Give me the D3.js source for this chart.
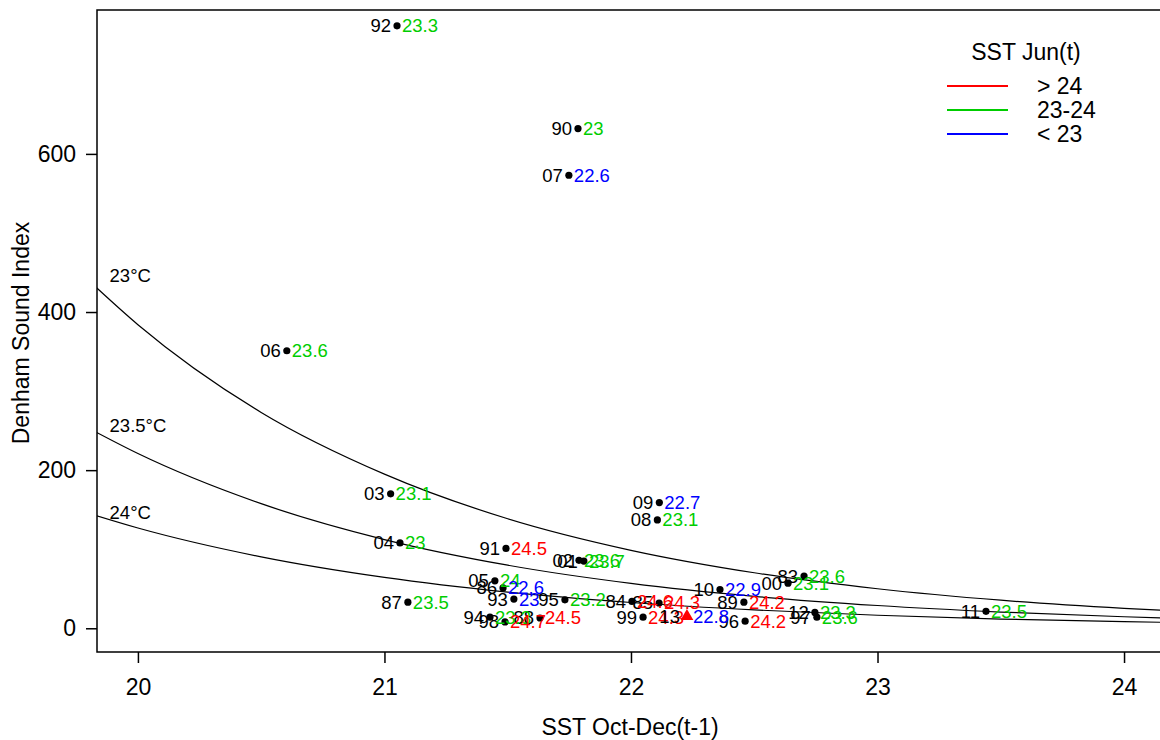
<!DOCTYPE html>
<html>
<head>
<meta charset="utf-8">
<script src="https://cdn.jsdelivr.net/npm/d3@7"></script>
<style>
  html, body { margin: 0; padding: 0; background: #fff; }
  svg { display: block; font-family: "Liberation Sans", Arial, sans-serif; }
</style>
</head>
<body>
<svg id="chart" width="1160" height="740"></svg>
<script>
// Year labels, SST Oct-Dec(t-1), Denham Sound index and SST Jun(t) for each season
const years   = ["92","90","07","06","03","09","08","04","91","02","01","05","86","87","93","95","84","85","99","10","89","96","00","83","12","97","11","94","98","88"];
const sstOctDec = [21.051,21.785,21.748,20.604,21.025,22.115,22.107,21.063,21.493,21.789,21.809,21.448,21.481,21.095,21.525,21.732,22.004,22.114,22.049,22.361,22.458,22.463,22.637,22.702,22.746,22.754,23.440,21.428,21.489,21.631];
const denhamIndex = [762,632,573,351,170,159,137,108,101,86,85,60,51,33,37,36,34,32,14,49,33,9,57,66,20,14,21.5,14,8,13];
const sstJun  = [23.3,23.0,22.6,23.6,23.1,22.7,23.1,23.0,24.5,23.6,23.7,24.0,22.6,23.5,22.96,23.2,24.6,24.3,24.3,22.9,24.2,24.2,23.1,23.6,23.3,23.6,23.5,23.3,24.7,24.5];

// Highlighted season (triangle marker)
const hiYear = ["13"];
const hiOctDec = [22.227];
const hiIndex = [15];
const hiJun = [22.8];

// Fitted index curves for three June SST levels
const curveX   = [19.8, 20, 20.5, 21, 21.5, 22, 22.5, 23, 23.5, 24, 24.3];
const curve23  = [440, 384, 273, 195, 138.5, 98.6, 70.2, 50.0, 35.5, 25.3, 20.6];
const curve235 = [253, 221, 157.6, 112.2, 79.8, 56.8, 40.4, 28.8, 20.5, 14.6, 11.9];
const curve24  = [145.4, 126.8, 90.3, 64.3, 45.7, 32.6, 23.2, 16.5, 11.7, 8.4, 6.8];
const curveNames = ["23°C", "23.5°C", "24°C"];

// Axis ticks and legend
const xTicks = [20, 21, 22, 23, 24];
const yTicks = [0, 200, 400, 600];
const legendTitle = "SST Jun(t)";
const legendLabels = ["> 24", "23-24", "< 23"];
const legendColors = ["#ff0000", "#00cd00", "#0000ff"];

const svg = d3.select("#chart");
const W = 1160, H = 740;
svg.append("rect").attr("width", W).attr("height", H).attr("fill", "#fff");

const plot = { left: 97, top: 10, right: 1198, bottom: 652 };
const x = d3.scaleLinear().domain([19.834, 24.3]).range([plot.left, plot.right]);
const y = d3.scaleLinear().domain([-30, 782]).range([plot.bottom, plot.top]);

const juneColor = v => v > 24 ? legendColors[0] : (v >= 23 ? legendColors[1] : legendColors[2]);
const fmt = v => String(Math.round(v * 10) / 10);

svg.append("clipPath").attr("id", "clip")
  .append("rect").attr("x", plot.left).attr("y", plot.top)
  .attr("width", plot.right - plot.left).attr("height", plot.bottom - plot.top);

// Curves
const line = d3.line().x(d => x(d[0])).y(d => y(d[1])).curve(d3.curveMonotoneX);
const curves = [curve23, curve235, curve24];
const gCurves = svg.append("g").attr("clip-path", "url(#clip)");
curves.forEach(c => {
  gCurves.append("path")
    .attr("d", line(curveX.map((v, i) => [v, c[i]])))
    .attr("fill", "none").attr("stroke", "#000").attr("stroke-width", 1.2);
});
// curve labels near the left edge
const curveLabelY = [446, 256, 147];
curveNames.forEach((n, i) => {
  svg.append("text").attr("x", x(19.885)).attr("y", y(curveLabelY[i]))
    .attr("dy", "0.35em").attr("font-size", 18.5).attr("fill", "#000").text(n);
});

// Frame
svg.append("path")
  .attr("d", `M${plot.right},${plot.top}H${plot.left}V${plot.bottom}H${plot.right}`)
  .attr("fill", "none").attr("stroke", "#000").attr("stroke-width", 1.5);

// Axes
const yAxis = svg.append("g").attr("transform", `translate(${plot.left},0)`)
  .call(d3.axisLeft(y).tickValues(yTicks).tickSize(11).tickPadding(10));
const xAxis = svg.append("g").attr("transform", `translate(0,${plot.bottom})`)
  .call(d3.axisBottom(x).tickValues(xTicks).tickFormat(d3.format("d")).tickSize(11).tickPadding(16));
[xAxis, yAxis].forEach(g => {
  g.select(".domain").remove();
  g.selectAll(".tick line").attr("stroke", "#000").attr("stroke-width", 1.5);
  g.selectAll(".tick text").attr("font-size", 23).attr("fill", "#000")
    .attr("font-family", "'Liberation Sans', Arial, sans-serif");
});

// Axis titles
svg.append("text").attr("x", 630).attr("y", 735).attr("text-anchor", "middle")
  .attr("font-size", 23).attr("fill", "#000").text("SST Oct-Dec(t-1)");
svg.append("text").attr("transform", "translate(29,333) rotate(-90)")
  .attr("text-anchor", "middle").attr("font-size", 23).attr("fill", "#000").text("Denham Sound Index");

// Points with year labels (left) and June SST (right)
const pts = years.map((yr, i) => ({ yr, xv: sstOctDec[i], yv: denhamIndex[i], j: sstJun[i] }));
const gPts = svg.append("g");
gPts.selectAll("circle").data(pts).join("circle")
  .attr("cx", d => x(d.xv)).attr("cy", d => y(d.yv)).attr("r", 3.6).attr("fill", "#000");
gPts.selectAll("text.yr").data(pts).join("text").attr("class", "yr")
  .attr("x", d => x(d.xv) - 6).attr("y", d => y(d.yv)).attr("dy", "0.35em")
  .attr("text-anchor", "end").attr("font-size", 18.5).attr("fill", "#000").text(d => d.yr);
gPts.selectAll("text.jun").data(pts).join("text").attr("class", "jun")
  .attr("x", d => x(d.xv) + 5).attr("y", d => y(d.yv)).attr("dy", "0.35em")
  .attr("font-size", 18.5).attr("fill", d => juneColor(d.j)).text(d => fmt(d.j));

// Highlighted season
const hi = hiYear.map((yr, i) => ({ yr, xv: hiOctDec[i], yv: hiIndex[i], j: hiJun[i] }));
gPts.selectAll("path.hi").data(hi).join("path").attr("class", "hi")
  .attr("d", d3.symbol().type(d3.symbolTriangle).size(70))
  .attr("transform", d => `translate(${x(d.xv)},${y(d.yv)})`).attr("fill", "#ff0000");
gPts.selectAll("text.hiyr").data(hi).join("text").attr("class", "hiyr")
  .attr("x", d => x(d.xv) - 7).attr("y", d => y(d.yv)).attr("dy", "0.35em")
  .attr("text-anchor", "end").attr("font-size", 18.5).attr("fill", "#000").text(d => d.yr);
gPts.selectAll("text.hijun").data(hi).join("text").attr("class", "hijun")
  .attr("x", d => x(d.xv) + 6).attr("y", d => y(d.yv)).attr("dy", "0.35em")
  .attr("font-size", 18.5).attr("fill", d => juneColor(d.j)).text(d => fmt(d.j));

// Legend
const lg = svg.append("g");
lg.append("text").attr("x", 1026).attr("y", 52).attr("dy", "0.35em").attr("text-anchor", "middle")
  .attr("font-size", 23).attr("fill", "#000").text(legendTitle);
legendLabels.forEach((lab, i) => {
  const ly = 86 + i * 24;
  lg.append("line").attr("x1", 947).attr("x2", 1008).attr("y1", ly).attr("y2", ly)
    .attr("stroke", legendColors[i]).attr("stroke-width", 2);
  lg.append("text").attr("x", 1037).attr("y", ly).attr("dy", "0.35em")
    .attr("font-size", 23).attr("fill", "#000").text(lab);
});
</script>
</body>
</html>
